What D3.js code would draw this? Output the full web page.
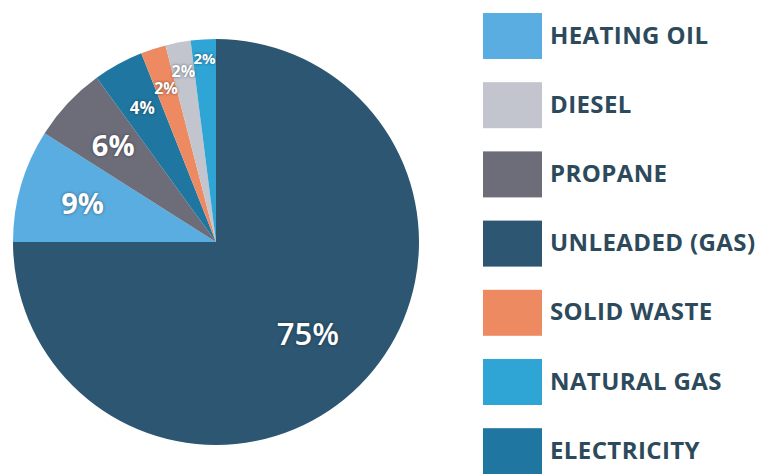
<!DOCTYPE html>
<html>
<head>
<meta charset="utf-8">
<script src="https://cdn.jsdelivr.net/npm/d3@7"></script>
<style>
  body { margin: 0; background: #fff; }
  svg { display: block; }
</style>
</head>
<body>
<svg></svg>
<script>
var width = 759
var height = 474

// slices in clockwise order from 12 o'clock
var sliceNames = ["UNLEADED (GAS)", "HEATING OIL", "PROPANE", "ELECTRICITY", "SOLID WASTE", "DIESEL", "NATURAL GAS"]
var sliceValues = [75, 9, 6, 4, 2, 2, 2]

// legend order as printed
var legendNames = ["HEATING OIL", "DIESEL", "PROPANE", "UNLEADED (GAS)", "SOLID WASTE", "NATURAL GAS", "ELECTRICITY"]

var colors = {
    "HEATING OIL": "#5aade0",
    "DIESEL": "#c2c5cd",
    "PROPANE": "#6d6c79",
    "UNLEADED (GAS)": "#2c5671",
    "SOLID WASTE": "#ee8a62",
    "NATURAL GAS": "#2fa5d5",
    "ELECTRICITY": "#1f76a0"
}

// label layout (radius from centre, font size)
var labelRadius = [130, 139, 141, 153, 162, 174, 184]
var labelSize = [31, 29, 29, 17, 16, 16, 15]

var cx = 216
var cy = 242
var radius = 203

var svg = d3.select("svg")
    .attr("width", width)
    .attr("height", height)

var pie = d3.pie().sort(null).value(d => d)
var arcs = pie(sliceValues)

var arc = d3.arc().innerRadius(0).outerRadius(radius)

var g = svg.append("g")
    .attr("transform", `translate(${cx}, ${cy})`)

g.selectAll("path")
    .data(arcs)
    .enter()
    .append("path")
    .attr("d", arc)
    .attr("fill", (d, i) => colors[sliceNames[i]])

g.selectAll("text")
    .data(arcs)
    .enter()
    .append("text")
    .attr("transform", (d, i) => {
        var c = d3.arc().innerRadius(labelRadius[i]).outerRadius(labelRadius[i]).centroid(d)
        return `translate(${c[0]}, ${c[1]})`
    })
    .attr("dy", "0.36em")
    .attr("text-anchor", "middle")
    .attr("font-family", "'Open Sans', sans-serif")
    .attr("font-weight", (d, i) => i == 0 ? 600 : 700)
    .attr("font-size", (d, i) => labelSize[i])
    .attr("fill", "#fff")
    .style("text-shadow", "0 0 3px rgba(20,30,40,0.6)")
    .text(d => d.value + "%")

var legendY = d3.scaleBand()
    .domain(legendNames)
    .range([13, 13 + 69.2 * legendNames.length])

var legend = svg.append("g")
    .selectAll("g")
    .data(legendNames)
    .enter()
    .append("g")
    .attr("transform", d => `translate(483, ${legendY(d)})`)

legend.append("rect")
    .attr("width", 59)
    .attr("height", 46)
    .attr("fill", d => colors[d])

legend.append("text")
    .attr("x", 67)
    .attr("y", 30.5)
    .attr("font-family", "'Open Sans', sans-serif")
    .attr("font-weight", 700)
    .attr("font-size", 24)
    .attr("letter-spacing", 0.4)
    .attr("fill", "#2d4a5c")
    .text(d => d)
</script>
</body>
</html>
